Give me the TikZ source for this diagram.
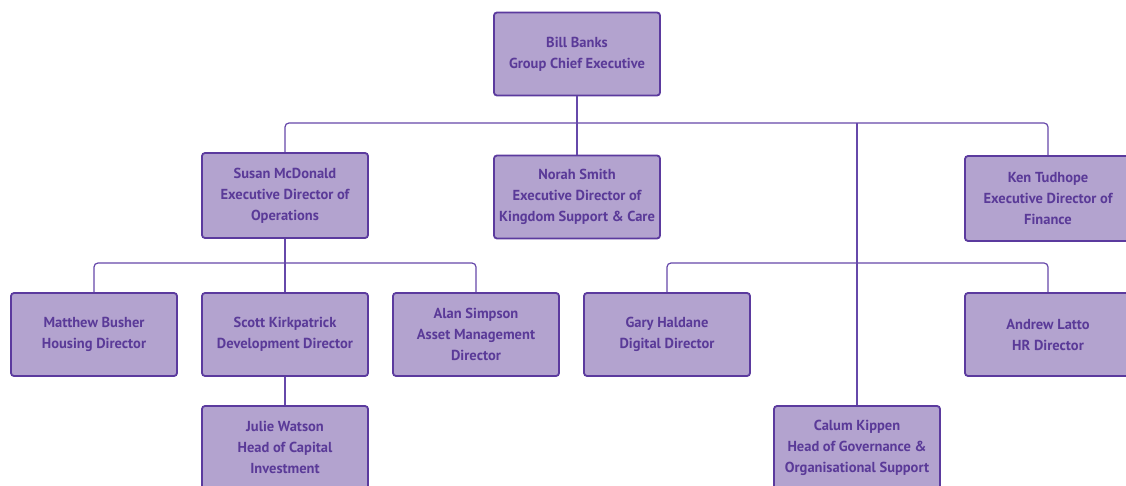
\documentclass[tikz,border=0pt]{standalone}
\usepackage{fontspec}
\setmainfont{PT Sans}
\definecolor{boxfill}{HTML}{B3A3CF}
\definecolor{boxline}{HTML}{5B3A9E}
\definecolor{txt}{HTML}{5A3A98}
\definecolor{conn}{HTML}{6648AA}
\begin{document}
\begin{tikzpicture}[x=1pt,y=-1pt,
 person/.style={draw=boxline, fill=boxfill, line width=1.8pt, rounded corners=3pt,
   minimum width=166pt, minimum height=83pt, align=center, text=txt,
   font=\bfseries\fontsize{14.5}{21}\selectfont, inner sep=0pt},
 link/.style={draw=conn, line width=1.2pt, rounded corners=4pt}]
\useasboundingbox (0,0) rectangle (1126,486);
\fill[white] (0,0) rectangle (1126,486);
\clip (0,0) rectangle (1126,486);

\node[person] (bill) at (577,54) {Bill Banks\\Group Chief Executive};
\node[person, minimum height=85pt] (susan) at (285,195.5) {Susan McDonald\\Executive Director of\\Operations};
\node[person] (norah) at (577,197) {Norah Smith\\Executive Director of\\Kingdom Support \& Care};
\node[person, minimum height=85pt] (ken) at (1048,198.5) {Ken Tudhope\\Executive Director of\\Finance};
\node[person] (matthew) at (94,334.5) {Matthew Busher\\Housing Director};
\node[person] (scott) at (285,334.5) {Scott Kirkpatrick\\Development Director};
\node[person] (alan) at (476,334.5) {Alan Simpson\\Asset Management\\Director};
\node[person] (gary) at (667,334.5) {Gary Haldane\\Digital Director};
\node[person] (andrew) at (1048,334.5) {Andrew Latto\\HR Director};
\node[person] (julie) at (285,447.5) {Julie Watson\\Head of Capital\\Investment};
\node[person] (calum) at (857,447.5) {Calum Kippen\\Head of Governance \&\\Organisational Support};

\coordinate (top) at (577,123);
\coordinate (mid) at (285,263);
\coordinate (mid2) at (857,263);

\draw[link] (bill) -- (top);
\draw[link] (susan.north) |- (top) -| (ken.north);
\draw[link] (top) -- (norah);
\draw[link] (calum.north) -- (calum.north |- top);
\draw[link] (susan) -- (mid);
\draw[link] (matthew.north) |- (mid) -| (alan.north);
\draw[link] (mid) -- (scott);
\draw[link] (gary.north) |- (mid2) -| (andrew.north);
\draw[link] (scott) -- (julie);
\end{tikzpicture}
\end{document}
